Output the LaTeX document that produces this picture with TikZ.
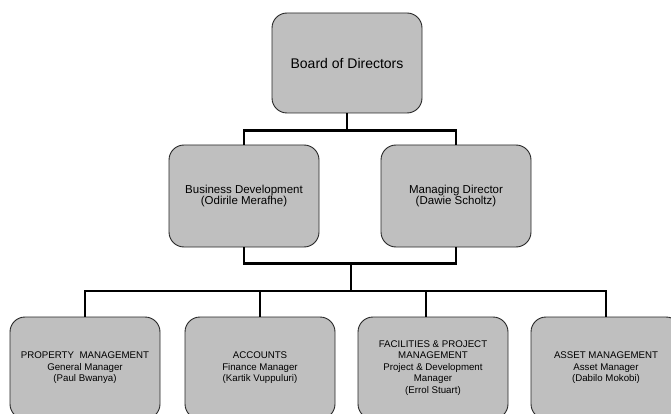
\documentclass[tikz,border=0pt]{standalone}
\usepackage{fontspec}
\setmainfont{Liberation Sans}
\usetikzlibrary{positioning}

\begin{document}
\begin{tikzpicture}[x=1pt, y=-1pt,
    orgbox/.style={draw=black!85, fill=gray!50, line width=0.9pt,
        rounded corners=15pt, minimum width=150pt, align=center},
    topbox/.style={orgbox, minimum height=100pt, font=\fontsize{14}{16}\selectfont},
    midbox/.style={orgbox, minimum height=102pt, font=\fontsize{11.5}{10.8}\selectfont},
    lowbox/.style={orgbox, minimum height=102pt, font=\fontsize{9.7}{11.6}\selectfont},
    link/.style={line width=2.6pt}]
    % Page frame
    \useasboundingbox (0,0) rectangle (671,414);
    \clip (0,0) rectangle (671,414);

    % Top level
    \node[topbox] (board) at (347,63) {Board of Directors};

    % Second level
    \node[midbox] (busdev) at (244,196) {Business Development\\(Odirile Merafhe)};
    \node[midbox] (mandir) at (456,196) {Managing Director\\(Dawie Scholtz)};

    % Third level
    \node[lowbox] (prop)  at (85,368)  {PROPERTY\ \ MANAGEMENT\\General Manager\\(Paul Bwanya)};
    \node[lowbox] (acc)   at (260,368) {ACCOUNTS\\Finance Manager\\(Kartik Vuppuluri)};
    \node[lowbox] (fac)   at (433,368) {FACILITIES \& PROJECT\\MANAGEMENT\\Project \& Development\\Manager\\(Errol Stuart)};
    \node[lowbox] (asset) at (606,368) {ASSET MANAGEMENT\\Asset Manager\\(Dabilo Mokobi)};

    % Bus points
    \coordinate (topbus) at (347,131);
    \coordinate (midbus) at (351,263);
    \coordinate (lowbus) at (351,291);
    \coordinate (facdrop) at (426,291);

    % Connectors
    \draw[link] (board.south) -- (topbus);
    \draw[link] (busdev.north) -- ++(0,-14) -| (mandir.north);
    \draw[link] (busdev.south) -- ++(0,16) -| (mandir.south);
    \draw[link] (midbus) -- (lowbus);
    \draw[link] (prop.north) |- (lowbus) -| (asset.north);
    \draw[link] (acc.north) -- (acc.north |- lowbus);
    \draw[link] (facdrop) -- (facdrop |- fac.north);
\end{tikzpicture}
\end{document}
